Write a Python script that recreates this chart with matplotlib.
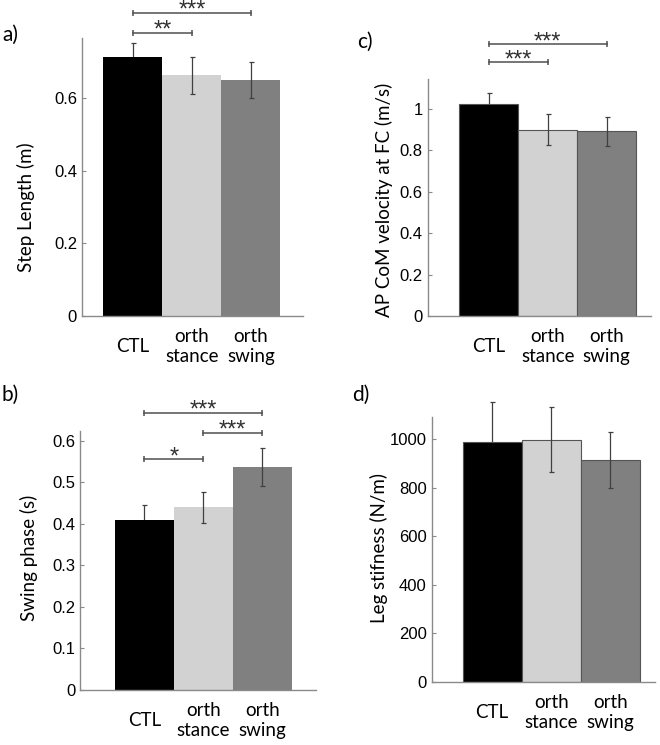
import numpy as np
import matplotlib
matplotlib.use('Agg')
import matplotlib.pyplot as plt

# 数据
groups = ['CTL', 'orth\nstance', 'orth\nswing']
bar_colors = ['#000000', '#d2d2d2', '#808080']

step_len = [0.712, 0.662, 0.649]
step_len_err = [0.040, 0.050, 0.050]

swing_phase = [0.409, 0.439, 0.537]
swing_phase_err = [0.037, 0.037, 0.046]

com_vel = [1.021, 0.899, 0.891]
com_vel_err = [0.054, 0.075, 0.071]

leg_stiff = [989, 997, 913]
leg_stiff_err = [166, 134, 116]

# significance: (bar i, bar j, stars, height)
sig_a = [(0, 2, '***', 0.835), (0, 1, '**', 0.779)]
sig_b = [(0, 2, '***', 0.666), (1, 2, '***', 0.618), (0, 1, '*', 0.555)]
sig_c = [(0, 2, '***', 1.311), (0, 1, '***', 1.224)]

LABEL_FONT = 'Lato'
TICK_FONT = 'Liberation Sans'
AX_COLOR = '#8a8a8a'


def draw_panel(fig, rect, vals, errs, ylabel, ylim, yticks, yticklabels, xlim,
               label, label_xy, ylabel_xy, sigs=(), edge=None):
    ax = fig.add_axes(rect)
    x = np.arange(1, len(vals) + 1)
    ec = bar_colors if edge is None else edge
    lw = 0 if edge is None else 0.8
    ax.bar(x, vals, width=1.0, color=bar_colors, edgecolor=ec, linewidth=lw, zorder=2)
    # 黑色柱子的下半段误差线被柱子盖住
    for i in range(len(vals)):
        eb = ax.errorbar(x[i], vals[i], yerr=errs[i], fmt='none', ecolor='#404040',
                         elinewidth=0.9, capsize=1.8, capthick=0.9,
                         zorder=1 if i == 0 else 3)
        for art in eb.lines[1] + eb.lines[2]:
            art.set_clip_on(False)
    ax.set_xlim(*xlim)
    ax.set_ylim(*ylim)
    ax.set_yticks(yticks)
    ax.set_yticklabels(yticklabels, fontsize=12, family=TICK_FONT)
    ax.set_xticks([])
    for s in ['top', 'right']:
        ax.spines[s].set_visible(False)
    for s in ['left', 'bottom']:
        ax.spines[s].set_color(AX_COLOR)
        ax.spines[s].set_linewidth(1.0)
    ax.tick_params(axis='y', direction='in', length=3, color=AX_COLOR, pad=3.5)
    ax.set_ylabel(ylabel, fontsize=13.5, family=LABEL_FONT)
    ax.yaxis.set_label_coords(*ylabel_xy)

    # x 轴标签，垂直居中
    for xi, g in zip(x, groups):
        ax.annotate(g, xy=(xi, 0), xycoords=('data', 'axes fraction'),
                    xytext=(0, -22), textcoords='offset points',
                    ha='center', va='center', fontsize=13.5, family=LABEL_FONT,
                    linespacing=1.2)

    # 显著性标记
    for i, j, stars, h in sigs:
        ax.plot([x[i], x[j]], [h, h], color='#505050', lw=1.1, marker='|',
                markersize=5, markeredgewidth=1.1, clip_on=False)
        ax.annotate(stars, xy=((x[i] + x[j]) / 2, h), xytext=(0, -2.8),
                    textcoords='offset points', ha='center', va='baseline',
                    fontsize=17, family=TICK_FONT, color='#303030',
                    annotation_clip=False)

    fig.text(label_xy[0], label_xy[1], label, fontsize=15, family=LABEL_FONT,
             ha='left', va='center')
    return ax


fig = plt.figure(figsize=(6.6, 7.45), dpi=100)

draw_panel(fig, [0.1242, 0.5758, 0.3348, 0.3732], step_len, step_len_err,
           'Step Length (m)', (0, 0.765), [0, 0.2, 0.4, 0.6],
           ['0', '0.2', '0.4', '0.6'], (0.14, 3.88), 'a)', (0.003, 0.953),
           (-0.213, 0.39), sig_a)

draw_panel(fig, [0.648, 0.5758, 0.3379, 0.3181], com_vel, com_vel_err,
           'AP CoM velocity at FC (m/s)', (0, 1.143), [0, 0.2, 0.4, 0.6, 0.8, 1.0],
           ['0', '0.2', '0.4', '0.6', '0.8', '1'], (-0.04, 3.75), 'c)',
           (0.541, 0.944), (-0.156, 0.49), sig_c, edge='#555555')

draw_panel(fig, [0.1212, 0.0738, 0.3576, 0.3477], swing_phase, swing_phase_err,
           'Swing phase (s)', (0, 0.623), [0, 0.1, 0.2, 0.3, 0.4, 0.5, 0.6],
           ['0', '0.1', '0.2', '0.3', '0.4', '0.5', '0.6'], (-0.09, 3.91), 'b)',
           (0.003, 0.470), (-0.178, 0.51), sig_b)

draw_panel(fig, [0.6541, 0.0850, 0.3383, 0.3557], leg_stiff, leg_stiff_err,
           'Leg stifness (N/m)', (0, 1093), [0, 200, 400, 600, 800, 1000],
           ['0', '200', '400', '600', '800', '1000'], (-0.025, 3.76), 'd)',
           (0.533, 0.470), (-0.196, 0.505), edge='#555555')

fig.savefig('out.png', dpi=100)
